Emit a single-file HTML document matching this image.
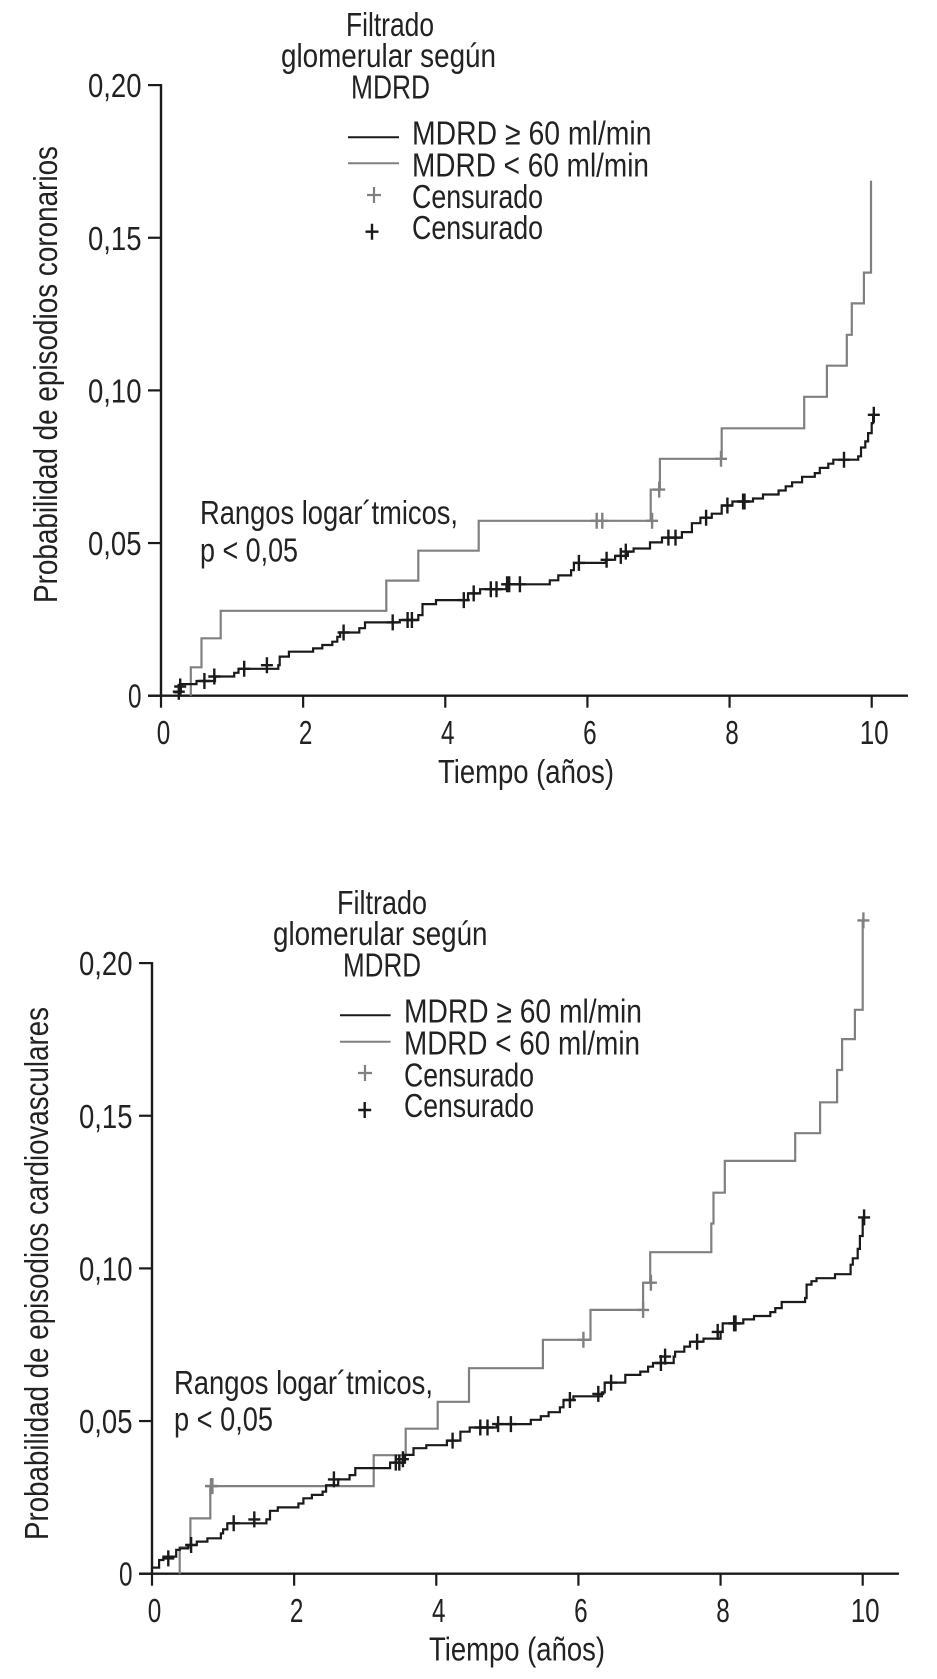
<!DOCTYPE html>
<html lang="es">
<head>
<meta charset="utf-8">
<title>Probabilidad de episodios según MDRD</title>
<style>
html,body{margin:0;padding:0;background:#fff}
svg{display:block}
text{font-family:"Liberation Sans",sans-serif;font-size:33px;fill:#222}
</style>
</head>
<body>
<svg id="figure" xmlns="http://www.w3.org/2000/svg" width="937" height="1679" viewBox="0 0 937 1679">
  <rect x="0" y="0" width="937" height="1679" fill="#fff"/>

  <g id="chart1">
    <text x="346" y="36" textLength="88" lengthAdjust="spacingAndGlyphs">Filtrado</text>
    <text x="281" y="67" textLength="215" lengthAdjust="spacingAndGlyphs">glomerular según</text>
    <text x="351" y="98.5" textLength="79" lengthAdjust="spacingAndGlyphs">MDRD</text>
    <line x1="348" y1="137.3" x2="399" y2="137.3" stroke="#1a1a1a" stroke-width="2"/>
    <line x1="348" y1="163.3" x2="399" y2="163.3" stroke="#808080" stroke-width="2"/>
    <text x="412" y="144.7" textLength="239.5" lengthAdjust="spacingAndGlyphs">MDRD ≥ 60 ml/min</text>
    <text x="412" y="176.7" textLength="237" lengthAdjust="spacingAndGlyphs">MDRD &lt; 60 ml/min</text>
    <path d="M367 195H381M374 187V203" stroke="#808080" stroke-width="2.2" fill="none"/>
    <path d="M365.5 231.7H378.500M372 223.700V239.700" stroke="#1a1a1a" stroke-width="2.4" fill="none"/>
    <text x="412" y="208" textLength="131" lengthAdjust="spacingAndGlyphs">Censurado</text>
    <text x="412" y="239" textLength="131" lengthAdjust="spacingAndGlyphs">Censurado</text>
    <text x="200" y="524" textLength="258" lengthAdjust="spacingAndGlyphs">Rangos logar´tmicos,</text>
    <text x="200" y="561.7" textLength="98" lengthAdjust="spacingAndGlyphs">p &lt; 0,05</text>
    <text x="438" y="783" textLength="176" lengthAdjust="spacingAndGlyphs">Tiempo (años)</text>
    <text transform="translate(57 603) rotate(-90)" textLength="457" lengthAdjust="spacingAndGlyphs">Probabilidad de episodios coronarios</text>
  </g>

  <g id="chart2">
    <text x="337" y="914" textLength="90" lengthAdjust="spacingAndGlyphs">Filtrado</text>
    <text x="273" y="945" textLength="214.500" lengthAdjust="spacingAndGlyphs">glomerular según</text>
    <text x="343" y="976.7" textLength="78" lengthAdjust="spacingAndGlyphs">MDRD</text>
    <line x1="340" y1="1015.3" x2="390.600" y2="1015.3" stroke="#1a1a1a" stroke-width="2"/>
    <line x1="340" y1="1041.7" x2="390.600" y2="1041.7" stroke="#808080" stroke-width="2"/>
    <text x="404" y="1022.7" textLength="238" lengthAdjust="spacingAndGlyphs">MDRD ≥ 60 ml/min</text>
    <text x="404" y="1054.7" textLength="236" lengthAdjust="spacingAndGlyphs">MDRD &lt; 60 ml/min</text>
    <path d="M358 1073H372M365 1065V1081" stroke="#808080" stroke-width="2.2" fill="none"/>
    <path d="M358.200 1110H371.200M364.700 1102V1118" stroke="#1a1a1a" stroke-width="2.4" fill="none"/>
    <text x="404" y="1086.7" textLength="130" lengthAdjust="spacingAndGlyphs">Censurado</text>
    <text x="404" y="1117" textLength="130" lengthAdjust="spacingAndGlyphs">Censurado</text>
    <text x="174" y="1394" textLength="259" lengthAdjust="spacingAndGlyphs">Rangos logar´tmicos,</text>
    <text x="174" y="1430.7" textLength="99" lengthAdjust="spacingAndGlyphs">p &lt; 0,05</text>
    <text x="429" y="1660.7" textLength="176" lengthAdjust="spacingAndGlyphs">Tiempo (años)</text>
    <text transform="translate(48 1540) rotate(-90)" textLength="533" lengthAdjust="spacingAndGlyphs">Probabilidad de episodios cardiovasculares</text>
  </g>
</svg>

<script>
var xTickValues = [0, 2, 4, 6, 8, 10];
var xTickLabels = ['0', '2', '4', '6', '8', '10'];
var yTickValues = [0, 0.05, 0.10, 0.15, 0.20];
var yTickLabels = ['0', '0,05', '0,10', '0,15', '0,20'];

var coronaryHighTimes = [0.18,0.28,0.50,0.76,1.03,1.09,1.65,1.67,1.80,2.14,2.27,2.41,2.48,2.52,2.79,2.87,3.36,3.62,3.68,3.87,4.32,4.49,4.86,5.47,5.59,5.77,5.81,6.26,6.39,6.57,6.65,6.88,7.05,7.33,7.47,7.59,7.75,7.89,8.04,8.33,8.47,8.69,8.79,8.88,9.02,9.20,9.27,9.39,9.46,9.81,9.85,9.91,9.95,10.0,10.02];
var coronaryHighProbs = [0.0011,0.0038,0.0048,0.0063,0.0075,0.0088,0.0100,0.0128,0.0144,0.0155,0.0166,0.0177,0.0193,0.0207,0.0221,0.0240,0.0248,0.0264,0.0300,0.0313,0.0335,0.0349,0.0365,0.0378,0.0394,0.0411,0.0435,0.0445,0.0458,0.0472,0.0482,0.0502,0.0518,0.0536,0.0565,0.0583,0.0596,0.0623,0.0636,0.0646,0.0659,0.0672,0.0686,0.0699,0.0717,0.0729,0.0746,0.0760,0.0773,0.0784,0.0813,0.0833,0.0860,0.0893,0.0920];
var coronaryHighCensoredTimes = [0.25,0.27,0.61,0.75,1.17,1.49,2.57,3.26,3.47,3.53,4.26,4.40,4.64,4.72,4.87,4.90,5.05,5.88,6.27,6.47,6.54,7.14,7.24,7.67,7.97,8.19,8.21,9.61,10.03];
var coronaryHighCensoredProbs = [0.0013,0.0030,0.0048,0.0063,0.0088,0.0100,0.0207,0.0240,0.0248,0.0248,0.0313,0.0335,0.0349,0.0349,0.0365,0.0365,0.0365,0.0435,0.0445,0.0458,0.0472,0.0518,0.0518,0.0583,0.0623,0.0636,0.0636,0.0773,0.0920];
var coronaryLowTimes = [0.42,0.42,0.57,0.84,3.17,3.62,4.47,6.89,7.02,7.89,9.05,9.37,9.65,9.72,9.89,9.99];
var coronaryLowProbs = [0,0.0093,0.0188,0.0278,0.0377,0.0475,0.0573,0.0675,0.0776,0.0876,0.0979,0.1081,0.1182,0.1285,0.1386,0.1687];
var coronaryLowCensoredTimes = [6.13,6.21,6.91,7.01,7.88];
var coronaryLowCensoredProbs = [0.0573,0.0573,0.0573,0.0675,0.0776];

var cardioHighTimes = [0,0.10,0.16,0.34,0.39,0.51,0.63,0.78,0.97,1.00,1.06,1.61,1.66,1.77,2.06,2.13,2.25,2.40,2.45,2.62,2.78,2.86,3.35,3.56,3.68,3.86,4.15,4.34,4.47,4.85,5.33,5.47,5.58,5.74,5.79,5.93,6.33,6.37,6.66,6.87,6.98,7.05,7.34,7.36,7.49,7.57,7.76,8.00,8.03,8.32,8.47,8.70,8.77,8.86,9.19,9.21,9.28,9.35,9.61,9.83,9.86,9.93,9.96,10.0];
var cardioHighProbs = [0.0020,0.0045,0.0056,0.0078,0.0083,0.0094,0.0105,0.0116,0.0132,0.0145,0.0165,0.0178,0.0206,0.0217,0.0230,0.0247,0.0258,0.0269,0.0290,0.0309,0.0323,0.0346,0.0364,0.0389,0.0411,0.0421,0.0436,0.0465,0.0479,0.0490,0.0504,0.0516,0.0529,0.0545,0.0569,0.0581,0.0594,0.0626,0.0651,0.0662,0.0678,0.0690,0.0711,0.0727,0.0744,0.0760,0.0770,0.0792,0.0820,0.0833,0.0844,0.0857,0.0870,0.0890,0.0903,0.0947,0.0958,0.0968,0.0981,0.1012,0.1033,0.1064,0.1106,0.1167];
var cardioHighCensoredTimes = [0.23,0.55,1.15,1.44,2.56,3.43,3.48,3.53,4.23,4.62,4.72,4.87,5.05,5.88,6.28,6.46,7.16,7.22,7.67,7.96,8.19,8.21,10.02];
var cardioHighCensoredProbs = [0.0050,0.0094,0.0165,0.0178,0.0309,0.0364,0.0364,0.0375,0.0436,0.0479,0.0479,0.0490,0.0490,0.0569,0.0589,0.0626,0.0690,0.0711,0.0760,0.0792,0.0820,0.0820,0.1167];
var cardioLowTimes = [0.39,0.39,0.54,0.82,3.12,3.57,4.02,4.46,5.50,6.17,6.91,7.01,7.87,7.90,8.06,9.05,9.40,9.64,9.71,9.89,10.0];
var cardioLowProbs = [0,0.0086,0.0181,0.0287,0.0388,0.0475,0.0563,0.0673,0.0766,0.0864,0.0953,0.1053,0.1147,0.1248,0.1352,0.1443,0.1544,0.1650,0.1751,0.1847,0.2140];
var cardioLowCensoredTimes = [0.83,0.85,6.07,6.91,7.02,10.01];
var cardioLowCensoredProbs = [0.0287,0.0287,0.0766,0.0864,0.0953,0.2140];

var SVG_NS = 'http://www.w3.org/2000/svg';
var PX_PER_YEAR = 71.07;
var PX_PER_PROB = 3053;
var INK = '#1a1a1a';
var GREY = '#808080';

function xScale(originX, t) { return originX + t * PX_PER_YEAR; }
function yScale(originY, p) { return originY - p * PX_PER_PROB; }

function addLine(parent, x1, y1, x2, y2, color, width) {
  var el = document.createElementNS(SVG_NS, 'line');
  el.setAttribute('x1', x1);
  el.setAttribute('y1', y1);
  el.setAttribute('x2', x2);
  el.setAttribute('y2', y2);
  el.setAttribute('stroke', color);
  el.setAttribute('stroke-width', width);
  parent.appendChild(el);
  return el;
}

function addLabel(parent, x, y, str, width, anchor) {
  var el = document.createElementNS(SVG_NS, 'text');
  el.setAttribute('x', x);
  el.setAttribute('y', y);
  el.setAttribute('text-anchor', anchor);
  el.setAttribute('textLength', width);
  el.setAttribute('lengthAdjust', 'spacingAndGlyphs');
  el.textContent = str;
  parent.appendChild(el);
  return el;
}

function drawAxes(group, originX, originY) {
  var top = yScale(originY, 0.20);
  var xAxis = addLine(group, originX - 13, originY, originX + 10.6 * PX_PER_YEAR - 6.4, originY, INK, 2.4);
  
  
  var yAxis = addLine(group, originX, top - 1, originX, originY, INK, 2.4);
  
  
  xTickValues.forEach(function (v, i) {
    var x = xScale(originX, v);
    var tick = addLine(group, x, originY, x, originY + 12, INK, 2.2);
    
    
    var label = addLabel(group, x + 2.5, originY + 48.3, xTickLabels[i], xTickLabels[i].length > 1 ? 29 : 13.5, 'middle');
    
    
  });
  yTickValues.forEach(function (v, i) {
    var y = yScale(originY, v);
    var tick = addLine(group, originX - 13, y, originX, y, INK, 2.2);
    
    
    var label = addLabel(group, originX - 19.5, y + 12, yTickLabels[i], yTickLabels[i].length > 1 ? 53.5 : 13.5, 'end');
    
    
  });
}

function drawSteps(group, originX, originY, times, probs, color, name) {
  var d = 'M' + xScale(originX, times[0]).toFixed(1) + ' ' + yScale(originY, probs[0]).toFixed(1);
  for (var i = 1; i < times.length; i++) {
    d += 'H' + xScale(originX, times[i]).toFixed(1) + 'V' + yScale(originY, probs[i]).toFixed(1);
  }
  var path = document.createElementNS(SVG_NS, 'path');
  path.setAttribute('d', d);
  path.setAttribute('fill', 'none');
  path.setAttribute('stroke', color);
  path.setAttribute('stroke-width', '2.2');
  
  
  group.appendChild(path);
}

function drawCensored(group, originX, originY, times, probs, color, name) {
  times.forEach(function (t, i) {
    var x = xScale(originX, t);
    var y = yScale(originY, probs[i]);
    var mark = document.createElementNS(SVG_NS, 'path');
    mark.setAttribute('d', 'M' + (x - 6).toFixed(1) + ' ' + y.toFixed(1) + 'H' + (x + 6).toFixed(1) + 'M' + x.toFixed(1) + ' ' + (y - 8).toFixed(1) + 'V' + (y + 8).toFixed(1));
    mark.setAttribute('fill', 'none');
    mark.setAttribute('stroke', color);
    mark.setAttribute('stroke-width', '2.4');
    
    
    group.appendChild(mark);
  });
}

var group1 = document.getElementById('chart1');
drawAxes(group1, 161, 695.7);
drawSteps(group1, 161, 695.7, coronaryLowTimes, coronaryLowProbs, GREY, 'series-mdrd-low');
drawSteps(group1, 161, 695.7, coronaryHighTimes, coronaryHighProbs, INK, 'series-mdrd-high');
drawCensored(group1, 161, 695.7, coronaryLowCensoredTimes, coronaryLowCensoredProbs, GREY, 'censored-mark-mdrd-low');
drawCensored(group1, 161, 695.7, coronaryHighCensoredTimes, coronaryHighCensoredProbs, INK, 'censored-mark-mdrd-high');

var group2 = document.getElementById('chart2');
drawAxes(group2, 152, 1573.7);
drawSteps(group2, 152, 1573.7, cardioLowTimes, cardioLowProbs, GREY, 'series-mdrd-low');
drawSteps(group2, 152, 1573.7, cardioHighTimes, cardioHighProbs, INK, 'series-mdrd-high');
drawCensored(group2, 152, 1573.7, cardioLowCensoredTimes, cardioLowCensoredProbs, GREY, 'censored-mark-mdrd-low');
drawCensored(group2, 152, 1573.7, cardioHighCensoredTimes, cardioHighCensoredProbs, INK, 'censored-mark-mdrd-high');
</script>
</body>
</html>
